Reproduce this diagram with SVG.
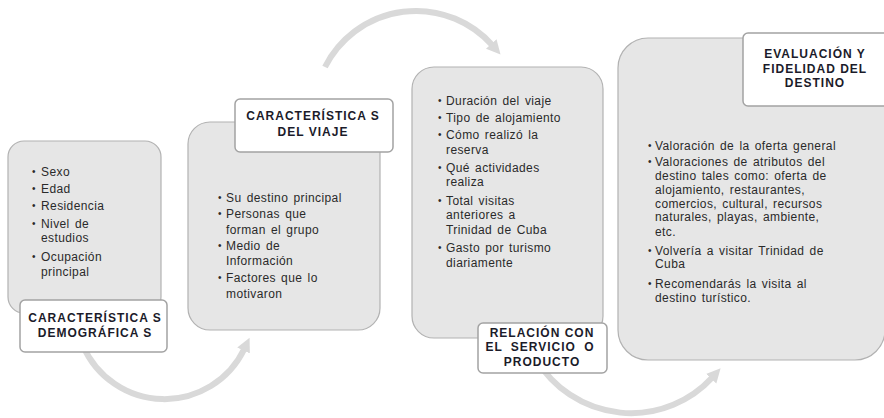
<svg xmlns="http://www.w3.org/2000/svg" width="884" height="418" viewBox="0 0 884 418">
<style>
.box{fill:#e6e6e6;stroke:#b2b2b2;stroke-width:1.2}
.lbl{fill:#ffffff;stroke:#a3a3a3;stroke-width:1.5}
.t{font-family:"Liberation Sans",Arial,sans-serif;font-size:12px;fill:#2a2a2a;letter-spacing:0.4px;word-spacing:1.5px}
.b{font-family:"Liberation Sans",Arial,sans-serif;font-size:10px;fill:#2a2a2a}
.h{font-family:"Liberation Sans",Arial,sans-serif;font-size:12px;font-weight:bold;fill:#1b1b2a;letter-spacing:1px;text-anchor:middle}
.arc{fill:none;stroke:#d9d9d9;stroke-width:6}
</style>
<defs>
<marker id="ah" markerUnits="userSpaceOnUse" markerWidth="16" markerHeight="16" viewBox="0 0 16 16" refX="2" refY="8" orient="auto">
<path d="M0,1 L14,8 L0,15 z" fill="#d9d9d9"/>
</marker>
</defs>
<rect width="884" height="418" fill="#ffffff"/>
<g id="connectors">
<path class="arc" d="M82.7,345 A88.7,88.7 0 0 0 244.4,348.7" marker-end="url(#ah)"/>
<path class="arc" d="M325,67 A102,102 0 0 1 492.6,45.5" marker-end="url(#ah)"/>
<path class="arc" d="M536.6,360 A110.4,110.4 0 0 0 712.5,377.2" marker-end="url(#ah)"/>
</g>
<g id="node1">
<rect class="box" x="8" y="141" width="153" height="172" rx="16"/>
<text class="b" x="32" y="175">•</text><text class="t" x="41" y="176">Sexo</text>
<text class="b" x="32" y="192">•</text><text class="t" x="41" y="193">Edad</text>
<text class="b" x="32" y="209">•</text><text class="t" x="41" y="210">Residencia</text>
<text class="b" x="32" y="227">•</text><text class="t" x="41" y="228">Nivel de</text>
<text class="t" x="41" y="242">estudios</text>
<text class="b" x="32" y="260">•</text><text class="t" x="41" y="261">Ocupación</text>
<text class="t" x="41" y="276">principal</text>
<rect class="lbl" x="20" y="300" width="147" height="52" rx="5"/>
<text class="h" x="95" y="322">CARACTERÍSTICA S</text>
<text class="h" x="95" y="337">DEMOGRÁFICA S</text>
</g>
<g id="node2">
<rect class="box" x="188" y="122" width="192" height="208" rx="22"/>
<text class="b" x="218" y="201">•</text><text class="t" x="226" y="202">Su destino principal</text>
<text class="b" x="218" y="217">•</text><text class="t" x="226" y="218">Personas que</text>
<text class="t" x="226" y="234">forman el grupo</text>
<text class="b" x="218" y="249">•</text><text class="t" x="226" y="250">Medio de</text>
<text class="t" x="226" y="265">Información</text>
<text class="b" x="218" y="281">•</text><text class="t" x="226" y="282">Factores que lo</text>
<text class="t" x="226" y="298">motivaron</text>
<rect class="lbl" x="235" y="99" width="158" height="53" rx="5"/>
<text class="h" x="313" y="120">CARACTERÍSTICA S</text>
<text class="h" x="313" y="136">DEL VIAJE</text>
</g>
<g id="node3">
<rect class="box" x="412" y="67" width="191" height="271" rx="22"/>
<text class="b" x="438" y="104">•</text><text class="t" x="446" y="105">Duración del viaje</text>
<text class="b" x="438" y="121">•</text><text class="t" x="446" y="122">Tipo de alojamiento</text>
<text class="b" x="438" y="138">•</text><text class="t" x="446" y="139">Cómo realizó la</text>
<text class="t" x="446" y="154">reserva</text>
<text class="b" x="438" y="171">•</text><text class="t" x="446" y="172">Qué actividades</text>
<text class="t" x="446" y="186">realiza</text>
<text class="b" x="438" y="204">•</text><text class="t" x="446" y="205">Total visitas</text>
<text class="t" x="446" y="219">anteriores a</text>
<text class="t" x="446" y="234">Trinidad de Cuba</text>
<text class="b" x="438" y="251">•</text><text class="t" x="446" y="252">Gasto por turismo</text>
<text class="t" x="446" y="267">diariamente</text>
<rect class="lbl" x="478" y="323" width="129" height="50" rx="5"/>
<text class="h" x="542" y="337">RELACIÓN CON</text>
<text class="h" x="540" y="351" style="word-spacing:4px">EL SERVICIO O</text>
<text class="h" x="542" y="366">PRODUCTO</text>
</g>
<g id="node4">
<rect class="box" x="618" y="38" width="267" height="322" rx="30"/>
<text class="b" x="648" y="149">•</text><text class="t" x="655" y="150">Valoración de la oferta general</text>
<text class="b" x="648" y="165">•</text><text class="t" x="655" y="166">Valoraciones de atributos del</text>
<text class="t" x="655" y="180">destino tales como: oferta de</text>
<text class="t" x="655" y="194">alojamiento, restaurantes,</text>
<text class="t" x="655" y="208">comercios, cultural, recursos</text>
<text class="t" x="655" y="221">naturales, playas, ambiente,</text>
<text class="t" x="655" y="236">etc.</text>
<text class="b" x="648" y="254">•</text><text class="t" x="655" y="255">Volvería a visitar Trinidad de</text>
<text class="t" x="655" y="268">Cuba</text>
<text class="b" x="648" y="287">•</text><text class="t" x="655" y="288">Recomendarás la visita al</text>
<text class="t" x="655" y="302">destino turístico.</text>
<rect class="lbl" x="743" y="33" width="150" height="73" rx="5"/>
<text class="h" x="815" y="58">EVALUACIÓN Y</text>
<text class="h" x="815" y="73">FIDELIDAD DEL</text>
<text class="h" x="815" y="87">DESTINO</text>
</g>
</svg>
